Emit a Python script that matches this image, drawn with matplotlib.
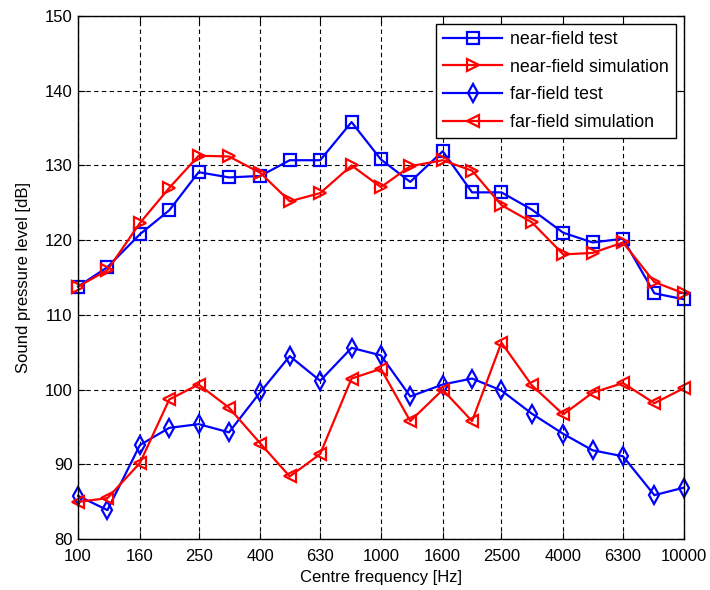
import matplotlib
matplotlib.use("Agg")
import matplotlib.pyplot as plt
import numpy as np

# third-octave centre frequencies [Hz]
freqs = [100, 125, 160, 200, 250, 315, 400, 500, 630, 800, 1000,
         1250, 1600, 2000, 2500, 3150, 4000, 5000, 6300, 8000, 10000]

near_test = [113.8, 116.4, 120.8, 124.0, 129.1, 128.4, 128.6, 130.7, 130.7, 135.8, 130.8,
             127.8, 131.9, 126.4, 126.4, 124.1, 121.0, 119.7, 120.2, 112.9, 112.1]
near_sim = [113.8, 116.0, 122.3, 127.0, 131.3, 131.2, 129.0, 125.2, 126.3, 130.0, 127.1,
            129.9, 130.7, 129.3, 124.7, 122.4, 118.1, 118.3, 119.7, 114.4, 112.9]
far_test = [85.8, 83.9, 92.6, 94.9, 95.4, 94.3, 99.7, 104.5, 101.2, 105.6, 104.6,
            99.1, 100.7, 101.5, 99.9, 96.8, 94.1, 91.9, 91.1, 85.9, 86.9]
far_sim = [85.0, 85.5, 90.2, 98.7, 100.7, 97.6, 92.8, 88.4, 91.4, 101.5, 102.8,
           95.8, 100.0, 95.8, 106.3, 100.6, 96.7, 99.6, 100.9, 98.2, 100.2]

tick_freqs = [100, 160, 250, 400, 630, 1000, 1600, 2500, 4000, 6300, 10000]

plt.rcParams['font.family'] = ['Liberation Sans', 'DejaVu Sans']
plt.rcParams['font.size'] = 12

fig = plt.figure(figsize=(7.1, 5.9), dpi=100)
ax = fig.add_axes([0.110, 0.086, 0.853, 0.887])

style = dict(linewidth=1.6, markersize=9, markerfacecolor='none', markeredgewidth=1.6,
             clip_on=False)
ax.plot(freqs, near_test, color='b', marker='s', label='near-field test', **style)
ax.plot(freqs, near_sim, color='r', marker='>', label='near-field simulation', **style)
ax.plot(freqs, far_test, color='b', marker='d', label='far-field test', **style)
ax.plot(freqs, far_sim, color='r', marker='<', label='far-field simulation', **style)

ax.set_xscale('log')
ax.set_xlim(100, 10000)
ax.set_ylim(80, 150)
ax.set_xticks(tick_freqs)
ax.set_xticklabels([str(f) for f in tick_freqs])
ax.xaxis.set_minor_locator(matplotlib.ticker.NullLocator())
ax.set_yticks(np.arange(80, 151, 10))

ax.grid(True, color='k', linestyle=(0, (4, 3)), linewidth=0.8)
ax.tick_params(direction='in', top=True, right=True, length=5)
ax.tick_params(axis='x', pad=7)
ax.tick_params(axis='y', pad=4)
for s in ax.spines.values():
    s.set_linewidth(1.0)

ax.set_xlabel('Centre frequency [Hz]', labelpad=4)
ax.set_ylabel('Sound pressure level [dB]', labelpad=10)

leg = ax.legend(loc='upper right', fancybox=False, framealpha=1, edgecolor='k',
                fontsize=12.8, handlelength=3.3, handletextpad=0.45,
                borderaxespad=0.45, labelspacing=0.6)
leg.get_frame().set_linewidth(1.0)

fig.savefig('out.png', dpi=100)
